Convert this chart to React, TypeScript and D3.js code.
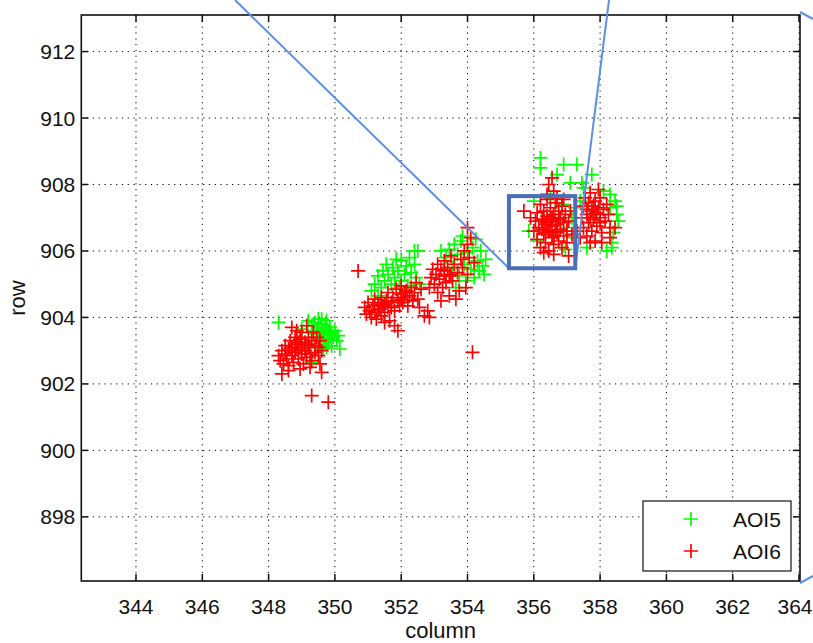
import React from "react";
import * as d3 from "d3";

// ---- data (column, row) ----
const aoi5A: [number, number][] = [
  [349.2,903.9],[349.3,903.75],[349.35,903.6],[349.4,903.85],[349.45,903.5],[349.5,903.7],[349.5,903.95],[349.55,903.35],
  [349.6,903.6],[349.6,903.8],[349.65,903.45],[349.7,903.65],[349.7,903.25],[349.75,903.9],[349.8,903.5],[349.8,903.35],
  [349.85,903.7],[349.9,903.55],[349.9,903.15],[349.95,903.4],[350.0,903.6],[350.05,903.3],[350.1,903.45],[350.15,903.05],
  [349.55,903.15],[349.65,903.05],[348.3,903.85],[349.6,903.95],[349.3,902.65],[349.0,903.65],[349.75,903.1],
  [349.6,903.5],[349.7,903.45],[349.8,903.6],[349.5,903.55],
];
const aoi5B: [number, number][] = [
  [351.1,904.8],[351.2,905.0],[351.3,905.25],[351.4,904.9],[351.45,905.4],[351.5,905.1],[351.55,905.6],[351.6,905.3],
  [351.7,905.0],[351.75,905.5],[351.8,905.2],[351.85,905.75],[351.9,905.4],[352.0,905.1],[352.0,905.7],[352.1,905.3],
  [352.15,905.55],[352.2,904.95],[352.3,905.35],[352.4,905.6],[352.45,905.2],[352.5,906.0],[352.55,905.0],[351.3,904.65],
  [352.25,905.8],[351.95,904.9],
];
const aoi5C: [number, number][] = [
  [353.35,905.8],[353.45,906.05],[353.55,905.5],[353.6,906.2],[353.7,905.9],[353.75,905.25],[353.8,906.3],[353.85,906.45],
  [353.9,905.6],[353.95,905.1],[354.0,905.95],[354.1,905.45],[354.15,906.1],[354.2,905.2],[354.3,905.7],[354.35,905.4],
  [354.4,906.0],[354.45,905.55],[354.5,905.3],[353.2,906.0],[352.4,906.0],[354.25,906.35],[353.65,904.9],[354.55,905.75],
];
const aoi5D: [number, number][] = [
  [356.2,908.8],[356.9,908.6],[357.3,908.6],[356.2,908.5],[357.1,908.05],[357.45,908.05],[357.75,908.3],[356.85,907.4],
  [357.0,906.7],[357.15,907.0],[356.0,907.5],[356.5,907.6],[356.1,906.3],[357.2,906.4],[356.95,906.05],[355.85,906.6],
  [357.25,907.3],[356.7,908.3],
];
const aoi5E: [number, number][] = [
  [357.5,907.9],[358.3,907.3],[358.45,907.5],[358.35,906.25],[358.5,907.35],[358.35,906.1],[358.3,907.7],[358.1,907.8],
  [358.55,906.9],[358.4,906.55],[358.2,906.0],[357.6,906.1],[358.5,907.1],[357.4,907.5],
];

const aoi6A: [number, number][] = [
  [348.3,902.85],[348.35,902.7],[348.4,903.0],[348.45,902.6],[348.5,902.9],[348.5,903.15],[348.55,902.75],[348.6,903.05],
  [348.6,902.55],[348.65,903.3],[348.7,902.85],[348.7,903.1],[348.75,902.65],[348.8,903.4],[348.8,902.95],[348.85,903.2],
  [348.9,902.75],[348.9,903.0],[348.95,903.35],[349.0,902.9],[349.0,903.15],[349.05,902.6],[349.1,903.25],[349.1,903.0],
  [349.15,902.8],[349.2,903.4],[349.2,903.1],[349.25,902.9],[349.3,903.3],[349.3,902.7],[349.35,903.55],[349.4,903.15],
  [349.4,902.95],[349.45,903.4],[349.5,903.1],[349.5,902.85],[349.55,903.3],[349.6,903.0],[349.0,903.55],[348.85,903.6],
  [348.7,903.7],[349.15,903.75],[348.6,902.4],[348.4,902.3],[349.6,902.35],[349.3,901.65],[349.8,901.45],[349.55,902.6],
  [348.95,902.45],[349.25,902.5],[348.8,903.1],[349.0,903.05],[348.7,903.0],[349.2,903.2],[348.9,903.25],
];
const aoi6B: [number, number][] = [
  [350.9,904.3],[350.95,904.1],[351.0,904.45],[351.05,904.2],[351.1,904.0],[351.15,904.35],[351.2,904.55],[351.2,904.15],
  [351.25,903.95],[351.3,904.4],[351.35,904.25],[351.4,904.6],[351.4,904.05],[351.45,904.35],[351.5,904.15],[351.55,904.5],
  [351.6,904.3],[351.6,904.75],[351.65,903.9],[351.7,904.45],[351.75,904.6],[351.8,904.2],[351.85,904.85],[351.9,904.5],
  [351.95,904.35],[352.0,904.7],[352.0,904.95],[352.05,904.45],[352.1,904.6],[352.15,904.8],[352.2,904.35],[352.25,904.65],
  [352.3,904.9],[352.35,904.5],[352.4,904.75],[352.5,904.55],[352.55,904.3],[351.8,903.75],[351.9,903.6],[352.8,904.2],
  [352.85,904.0],[352.7,904.05],[350.7,905.4],[351.5,903.85],[352.45,905.05],[352.6,904.85],
  [351.3,904.25],[351.5,904.4],[351.7,904.3],[352.0,904.55],[352.1,904.75],[351.4,904.45],
];
const aoi6C: [number, number][] = [
  [352.85,904.9],[352.9,905.2],[352.95,905.45],[353.0,905.0],[353.05,905.3],[353.1,905.6],[353.1,904.75],[353.15,905.15],
  [353.2,905.45],[353.25,904.9],[353.3,905.7],[353.3,905.25],[353.35,905.05],[353.4,905.5],[353.45,904.65],[353.5,905.3],
  [353.5,905.85],[353.55,905.1],[353.6,905.6],[353.7,905.35],[353.75,904.8],[353.8,905.75],[353.85,905.5],[353.9,906.0],
  [354.0,905.3],[354.0,906.2],[354.05,905.8],[354.1,906.4],[354.0,906.7],[354.15,902.95],[353.65,904.55],[353.95,904.9],
  [354.2,905.65],[353.2,904.5],[353.3,905.4],[353.45,905.25],
];
const aoi6D: [number, number][] = [
  [356.0,906.6],[356.05,906.9],[356.1,906.35],[356.1,907.15],[356.15,906.7],[356.2,906.1],[356.2,907.4],[356.25,906.95],
  [356.3,906.5],[356.3,907.2],[356.35,906.8],[356.35,906.25],[356.4,907.05],[356.4,907.55],[356.45,906.6],[356.45,906.0],
  [356.5,906.9],[356.5,907.3],[356.55,906.4],[356.55,906.75],[356.6,907.1],[356.6,906.2],[356.65,906.95],[356.65,907.45],
  [356.7,906.55],[356.7,906.8],[356.75,907.2],[356.75,906.3],[356.8,906.65],[356.8,907.0],[356.85,906.1],[356.85,907.35],
  [356.9,906.85],[356.9,906.45],[356.95,907.1],[357.0,906.6],[357.0,906.25],[357.05,906.9],[357.1,907.2],[357.15,906.5],
  [356.55,908.2],[356.4,907.7],[356.6,907.8],[355.7,907.2],[355.9,907.0],[356.6,905.9],[357.05,905.85],[356.3,905.95],
  [356.9,907.55],[356.45,908.0],[356.25,906.65],[356.7,907.6],
  [356.35,906.55],[356.5,906.6],[356.65,906.6],[356.55,907.0],[356.4,906.85],[356.75,906.95],[356.6,906.45],[356.3,906.95],
];
const aoi6E: [number, number][] = [
  [357.45,907.0],[357.5,907.35],[357.5,906.7],[357.55,907.6],[357.6,907.1],[357.65,906.85],[357.65,907.45],[357.7,907.75],
  [357.75,907.2],[357.75,906.6],[357.8,906.95],[357.85,907.5],[357.85,907.1],[357.9,906.75],[357.95,907.3],[358.0,907.0],
  [358.0,907.6],[358.05,906.55],[358.1,907.25],[358.15,906.9],[358.2,907.4],[358.25,907.1],[358.3,906.7],[357.6,906.45],
  [357.85,906.3],[358.05,906.25],[358.3,906.4],[358.45,906.7],[357.4,906.4],[357.95,907.85],[357.7,906.25],[357.3,906.6],
  [357.7,907.0],[357.9,907.15],[357.8,907.35],[358.0,906.85],[357.6,907.25],
];

const aoi5 = [...aoi5A, ...aoi5B, ...aoi5C, ...aoi5D, ...aoi5E];
const aoi6 = [...aoi6A, ...aoi6B, ...aoi6C, ...aoi6D, ...aoi6E];

const xTicks = [344, 346, 348, 350, 352, 354, 356, 358, 360, 362, 364];
const yTicks = [898, 900, 902, 904, 906, 908, 910, 912];
const seriesNames = ["AOI5", "AOI6"];
const seriesColors = ["#00ff00", "#ff0000"];
// zoom box region (column, row)
const zoomBox = { x0: 355.25, x1: 357.25, y0: 905.48, y1: 907.65 };

const W = 813, H = 643;
const L = 81.3, R = 800, T = 15, B = 581;

export default function App() {
  const x = d3.scaleLinear().domain([342.35, 364.03]).range([L, R]);
  const y = d3.scaleLinear().domain([896.07, 913.1]).range([B, T]);
  const font = "'Liberation Sans', Arial, sans-serif";
  const ms = 7;
  const plus = (cx: number, cy: number, c: string, k: string) => (
    <path key={k} d={`M${cx - ms},${cy}H${cx + ms}M${cx},${cy - ms}V${cy + ms}`} stroke={c} strokeWidth={1.7} fill="none" />
  );
  const zb = { l: x(zoomBox.x0), r: x(zoomBox.x1), t: y(zoomBox.y1), b: y(zoomBox.y0) };
  const tl = 7;
  return (
    <svg width={W} height={H} style={{ position: "absolute", left: 0, top: 0, background: "#fff" }} fontFamily={font}>
      <rect x={0} y={0} width={W} height={H} fill="#fff" />
      {/* grid */}
      {xTicks.map((t) => (
        <line key={"gx" + t} x1={x(t)} x2={x(t)} y1={T} y2={B} stroke="#000" strokeWidth={1} strokeDasharray="1.2,4.6" />
      ))}
      {yTicks.map((t) => (
        <line key={"gy" + t} x1={L} x2={R} y1={y(t)} y2={y(t)} stroke="#000" strokeWidth={1} strokeDasharray="1.2,4.6" />
      ))}
      {/* ticks */}
      {xTicks.map((t) => (
        <g key={"tx" + t}>
          <line x1={x(t)} x2={x(t)} y1={B} y2={B - tl} stroke="#111" strokeWidth={1.5} />
          <line x1={x(t)} x2={x(t)} y1={T} y2={T + tl} stroke="#111" strokeWidth={1.5} />
          <text x={Math.min(x(t), W - 18)} y={B + 33} textAnchor="middle" fontSize={21} fill="#111">{t}</text>
        </g>
      ))}
      {yTicks.map((t) => (
        <g key={"ty" + t}>
          <line x1={L} x2={L + tl} y1={y(t)} y2={y(t)} stroke="#111" strokeWidth={1.5} />
          <line x1={R} x2={R - tl} y1={y(t)} y2={y(t)} stroke="#111" strokeWidth={1.5} />
          <text x={L - 6} y={y(t) + 7.5} textAnchor="end" fontSize={21} fill="#111">{t}</text>
        </g>
      ))}
      {/* data */}
      <g>{aoi5.map((p, i) => plus(x(p[0]), y(p[1]), seriesColors[0], "g" + i))}</g>
      <g>{aoi6.map((p, i) => plus(x(p[0]), y(p[1]), seriesColors[1], "r" + i))}</g>
      {/* axes box */}
      <rect x={L} y={T} width={R - L} height={B - T} fill="none" stroke="#111" strokeWidth={1.6} />
      {/* labels */}
      <text x={(L + R) / 2} y={638} textAnchor="middle" fontSize={22} fill="#111">column</text>
      <text transform={`translate(25,${(T + B) / 2}) rotate(-90)`} textAnchor="middle" fontSize={22} fill="#111">row</text>
      {/* legend */}
      <g>
        <rect x={643} y={501} width={148} height={70} fill="#fff" stroke="#111" strokeWidth={1.2} />
        {seriesNames.map((n, i) => (
          <g key={n}>
            {plus(691, 519 + i * 32, seriesColors[i], "lg" + i)}
            <text x={733} y={519 + i * 32 + 7.5} fontSize={21} fill="#111">{n}</text>
          </g>
        ))}
      </g>
      {/* zoom annotation */}
      <line x1={235} y1={0} x2={zb.l} y2={zb.b} stroke="#5b8ee6" strokeWidth={2} />
      <line x1={609} y1={0} x2={zb.r} y2={zb.b} stroke="#5b8ee6" strokeWidth={2} />
      <line x1={800} y1={12} x2={813} y2={19} stroke="#5b8ee6" strokeWidth={2} />
      <line x1={800} y1={583} x2={813} y2={576} stroke="#5b8ee6" strokeWidth={2} />
      <rect x={zb.l} y={zb.t} width={zb.r - zb.l} height={zb.b - zb.t} fill="none" stroke="#4a6fb8" strokeWidth={4} />
    </svg>
  );
}
